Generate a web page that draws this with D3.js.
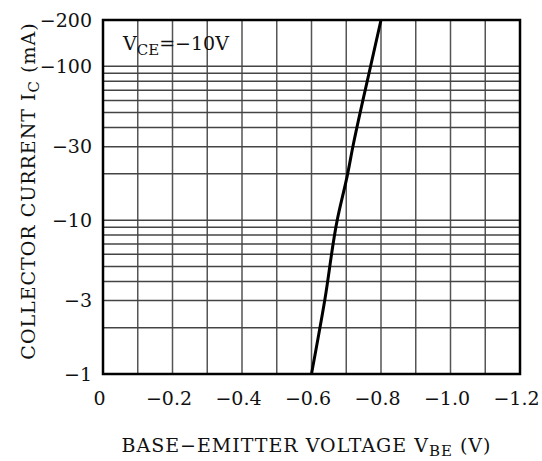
<!DOCTYPE html>
<html>
<head>
<meta charset="utf-8">
<script src="https://cdn.jsdelivr.net/npm/d3@7"></script>
<style>
  body { margin: 0; background: #fff; }
  svg text { font-family: "DejaVu Serif", serif; fill: #111; }
</style>
</head>
<body>
<div id="chart"></div>
<script>
// curve: VBE (V) vs IC (mA), magnitudes
const vbe = [-0.60, -0.638, -0.674, -0.704, -0.719, -0.77, -0.80];
const ic = [1, 3, 10, 20, 30, 100, 200];

const xTicks = [0, -0.2, -0.4, -0.6, -0.8, -1.0, -1.2];
const xTickLabels = ["0", "\u22120.2", "\u22120.4", "\u22120.6", "\u22120.8", "\u22121.0", "\u22121.2"];
const yTicks = [1, 3, 10, 30, 100, 200];
const yTickLabels = ["\u22121", "\u22123", "\u221210", "\u221230", "\u2212100", "\u2212200"];
const xGrid = d3.range(0, 13).map(i => -i / 10);
const yGrid = [1, 2, 3, 4, 5, 6, 7, 8, 9, 10, 20, 30, 40, 50, 60, 70, 80, 90, 100];

var margin = { top: 20, right: 22, bottom: 87, left: 103 },
    width = 542 - margin.left - margin.right,
    height = 461 - margin.top - margin.bottom;

var svg = d3.select("#chart")
    .append("svg")
    .attr("width", 542)
    .attr("height", 461)
    .append("g")
    .attr("transform", "translate(" + margin.left + "," + margin.top + ")");

var x = d3.scaleLinear().domain([0, -1.2]).range([0, width]);
var y = d3.scaleLog().domain([1, 200]).range([height, 0]);

// grid
svg.append("g").selectAll("line")
    .data(xGrid)
    .enter().append("line")
    .attr("x1", d => x(d)).attr("x2", d => x(d))
    .attr("y1", 0).attr("y2", height)
    .attr("stroke", "#555").attr("stroke-width", 1.5);

svg.append("g").selectAll("line")
    .data(yGrid)
    .enter().append("line")
    .attr("x1", 0).attr("x2", width)
    .attr("y1", d => y(d)).attr("y2", d => y(d))
    .attr("stroke", "#444").attr("stroke-width", 1.5);

// frame
svg.append("rect")
    .attr("width", width).attr("height", height)
    .attr("fill", "none").attr("stroke", "#000").attr("stroke-width", 2.5);

// axes (labels only)
var xAxis = svg.append("g")
    .attr("transform", "translate(0," + height + ")")
    .call(d3.axisBottom(x).tickValues(xTicks).tickSize(0).tickPadding(18)
        .tickFormat((d, i) => xTickLabels[i]));
xAxis.select(".domain").remove();
xAxis.selectAll("text").attr("font-size", 19).attr("dx", -4).style("font-family", "DejaVu Serif");

var yAxis = svg.append("g")
    .call(d3.axisLeft(y).tickValues(yTicks).tickSize(0).tickPadding(11)
        .tickFormat((d, i) => yTickLabels[i]));
yAxis.select(".domain").remove();
yAxis.selectAll("text").attr("font-size", 19).style("font-family", "DejaVu Serif");

// curve
svg.append("path")
    .datum(d3.zip(vbe, ic))
    .attr("fill", "none")
    .attr("stroke", "#000")
    .attr("stroke-width", 3)
    .attr("d", d3.line().curve(d3.curveMonotoneY).x(d => x(d[0])).y(d => y(d[1])));

// annotation
var ann = svg.append("text")
    .attr("x", 20).attr("y", 30)
    .attr("font-size", 19);
ann.append("tspan").text("V");
ann.append("tspan").attr("font-size", 15).attr("dy", 5).text("CE");
ann.append("tspan").attr("dy", -5).text("=\u221210V");

// axis titles
var xt = svg.append("text")
    .attr("x", width / 2 - 5).attr("y", height + 78)
    .attr("text-anchor", "middle")
    .attr("letter-spacing", 1)
    .attr("font-size", 19);
xt.append("tspan").text("BASE\u2212EMITTER VOLTAGE V");
xt.append("tspan").attr("font-size", 15).attr("dy", 4).text("BE");
xt.append("tspan").attr("dy", -4).text(" (V)");

var yt = svg.append("text")
    .attr("transform", "translate(-68," + (height / 2 - 6) + ") rotate(-90)")
    .attr("text-anchor", "middle")
    .attr("letter-spacing", 1)
    .attr("font-size", 19);
yt.append("tspan").text("COLLECTOR CURRENT I");
yt.append("tspan").attr("font-size", 15).attr("dy", 4).text("C");
yt.append("tspan").attr("dy", -4).text(" (mA)");
</script>
</body>
</html>
